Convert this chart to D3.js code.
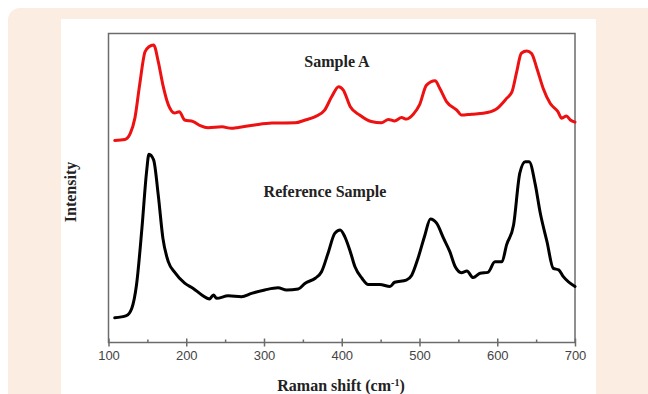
<!DOCTYPE html>
<html>
<head>
<meta charset="utf-8">
<script src="https://cdn.jsdelivr.net/npm/d3@7"></script>
<style>
  html, body { margin: 0; padding: 0; background: #ffffff; }
  svg { display: block; }
</style>
</head>
<body>
<svg id="chart"></svg>
<script>
// Raman shift positions (cm^-1) and intensities (arbitrary units)
const sampleAShift = [108, 121, 128, 134, 140, 147, 152, 158, 164, 170, 177, 185, 191, 198, 209, 218, 228, 246, 258, 267,
  288, 310, 340, 353, 366, 378, 387, 396, 402, 411, 423, 438, 451, 460, 468, 477, 483, 492, 500, 509,
  520, 526, 535, 548, 554, 567, 582, 599, 612, 619, 625, 631, 638, 644, 651, 659, 668, 678, 683, 689, 694, 700];
const sampleAIntensity = [65.4, 65.7, 67.7, 72.7, 83.3, 94.1, 95.7, 96.3, 90.9, 83.3, 76.9, 74.3, 74.7, 72.0, 71.5, 70.2, 69.5, 69.8, 69.3, 69.6,
  70.4, 71.0, 71.1, 72.0, 73.1, 75.2, 79.5, 82.8, 81.7, 76.3, 73.6, 71.5, 71.1, 72.2, 71.7, 72.8, 72.3, 73.9, 76.9, 83.3,
  84.7, 82.3, 77.9, 75.2, 73.6, 73.9, 74.2, 75.6, 79.0, 81.2, 87.6, 93.6, 94.3, 93.6, 88.7, 82.3, 77.4, 74.7, 72.6, 73.3, 72.0, 71.3];

const refShift = [108, 123, 130, 136, 143, 149, 152, 158, 164, 170, 177, 185, 198, 209, 220, 230, 235, 239, 254, 271,
  284, 301, 318, 329, 344, 353, 366, 374, 383, 391, 398, 404, 411, 417, 426, 434, 449, 462, 468, 483,
  490, 498, 507, 514, 522, 531, 539, 546, 554, 561, 569, 578, 588, 597, 606, 612, 621, 629, 636, 641,
  649, 655, 664, 672, 679, 685, 700];
const refIntensity = [8.0, 8.7, 11.1, 18.6, 37.0, 55.3, 60.9, 59.1, 47.7, 33.7, 26.1, 22.8, 19.2, 17.5, 15.4, 14.1, 15.4, 14.3, 15.1, 14.8,
  15.9, 17.0, 17.7, 17.0, 17.3, 19.2, 20.8, 22.9, 29.4, 35.3, 36.4, 34.2, 29.4, 24.5, 20.8, 18.8, 18.8, 18.1, 19.5, 20.2,
  21.8, 27.2, 34.8, 40.0, 38.6, 33.7, 29.4, 24.5, 22.6, 23.1, 21.0, 22.4, 22.7, 26.1, 26.1, 31.6, 38.0, 54.8, 58.5, 58.5,
  51.0, 42.3, 32.6, 24.0, 23.5, 21.3, 18.1];

const majorTicks = [100, 200, 300, 400, 500, 600, 700];
const minorTicks = [150, 250, 350, 450, 550, 650];

const W = 648, H = 394;
const svg = d3.select("#chart").attr("width", W).attr("height", H);

// page background: peach card with white panel
svg.append("rect").attr("x", 8).attr("y", 8).attr("width", 680).attr("height", 420)
  .attr("rx", 12).attr("fill", "#fcede3");
svg.append("rect").attr("x", 61).attr("y", 19).attr("width", 535).attr("height", 400)
  .attr("fill", "#ffffff");

const plot = { left: 108.5, right: 575, top: 33.5, bottom: 342.5 };

const x = d3.scaleLinear().domain([100, 700]).range([plot.left, plot.right]);
const y = d3.scaleLinear().domain([0, 100]).range([plot.bottom, plot.top]);

// frame
svg.append("rect")
  .attr("x", plot.left).attr("y", plot.top)
  .attr("width", plot.right - plot.left).attr("height", plot.bottom - plot.top)
  .attr("fill", "none").attr("stroke", "#6b6b6b").attr("stroke-width", 1.5);

// x axis: major ticks cross the axis, minor ticks point in
const gx = svg.append("g").attr("transform", "translate(0," + plot.bottom + ")");
gx.call(d3.axisBottom(x).tickValues(majorTicks).tickSize(4).tickPadding(4).tickFormat(d3.format("d")));
gx.call(g => g.select(".domain").remove());
gx.selectAll(".tick line").attr("stroke", "#6b6b6b").attr("stroke-width", 1.5).attr("y1", -4);
gx.selectAll(".tick text")
  .attr("fill", "#444")
  .attr("font-family", "Liberation Sans, Arial, sans-serif")
  .attr("font-size", 13);

svg.append("g")
  .attr("transform", "translate(0," + plot.bottom + ")")
  .call(d3.axisBottom(x).tickValues(minorTicks).tickSize(-3).tickFormat(""))
  .call(g => g.select(".domain").remove())
  .selectAll(".tick line").attr("stroke", "#6b6b6b").attr("stroke-width", 1.5);

const serif = "Liberation Serif, Times New Roman, serif";

// axis titles
const xTitle = svg.append("text")
  .attr("x", 341).attr("y", 391)
  .attr("text-anchor", "middle")
  .attr("font-family", serif)
  .attr("font-weight", "bold")
  .attr("font-size", 16)
  .attr("fill", "#222");
xTitle.append("tspan").text("Raman shift (cm");
xTitle.append("tspan").attr("baseline-shift", "super").attr("font-size", 10).text("-1");
xTitle.append("tspan").text(")");

svg.append("text")
  .attr("transform", "translate(76,192) rotate(-90)")
  .attr("text-anchor", "middle")
  .attr("font-family", serif)
  .attr("font-weight", "bold")
  .attr("font-size", 16)
  .attr("fill", "#222")
  .text("Intensity");

// spectra
const line = d3.line()
  .x(d => x(d[0]))
  .y(d => y(d[1]))
  .curve(d3.curveMonotoneX);

const series = [
  { shift: sampleAShift, values: sampleAIntensity, color: "#ee1111", label: "Sample A", lx: 337, ly: 67 },
  { shift: refShift, values: refIntensity, color: "#000000", label: "Reference Sample", lx: 325, ly: 197 }
];

for (let s of series) {
  svg.append("path")
    .datum(d3.zip(s.shift, s.values))
    .attr("fill", "none")
    .attr("stroke", s.color)
    .attr("stroke-width", 3)
    .attr("stroke-linejoin", "round")
    .attr("stroke-linecap", "round")
    .attr("d", line);

  svg.append("text")
    .attr("x", s.lx).attr("y", s.ly)
    .attr("text-anchor", "middle")
    .attr("font-family", serif)
    .attr("font-weight", "bold")
    .attr("font-size", 16)
    .attr("fill", "#222")
    .text(s.label);
}
</script>
</body>
</html>
